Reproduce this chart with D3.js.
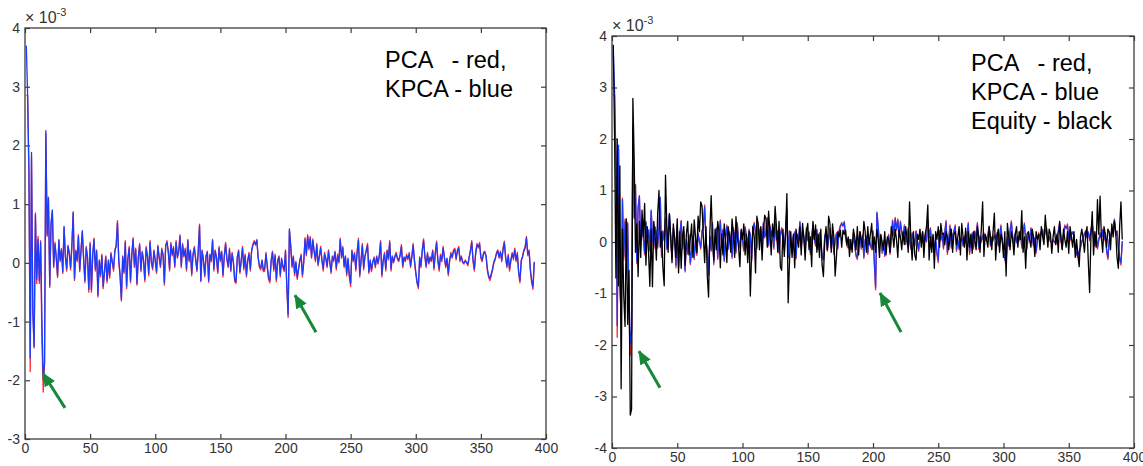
<!DOCTYPE html>
<html>
<head>
<meta charset="utf-8">
<script src="https://cdn.jsdelivr.net/npm/d3@7"></script>
<style>
  body { margin: 0; background: #fff; }
  svg { display: block; }
  .tick text { font-family: "Liberation Sans Narrow", "Liberation Sans", Arial, sans-serif; font-size: 14px; fill: #333; }
  .note { font-family: "Liberation Sans", Arial, sans-serif; font-size: 23.5px; fill: #000; white-space: pre; }
  .expo { font-family: "Liberation Sans Narrow", "Liberation Sans", Arial, sans-serif; fill: #333; }
</style>
</head>
<body>
<svg width="1143" height="466"></svg>
<script>
// all values in units of 1e-3, sample index runs 1..391
var pca = [
  2.85, 2.85, 1.55, -1.85, 1.80, -0.80, -1.45, 0.85, -0.35, 0.45,
  -0.35, 0.38, -1.35, -2.20, -1.72, 2.20, 0.45, 1.12, -0.42, 0.65,
  0.88, -0.08, 0.35, 0.08, -0.25, 0.40, 0.02, 0.24, -0.18, 0.60,
  0.12, -0.14, 0.30, 0.15, -0.12, 0.28, 0.85, -0.30, 0.22, 0.02,
  0.48, -0.15, 0.20, 0.52, 0.05, -0.34, 0.28, 0.08, -0.50, 0.35,
  -0.50, 0.12, 0.42, -0.14, 0.22, -0.58, 0.02, -0.24, 0.15, -0.44,
  -0.18, 0.12, -0.34, 0.02, -0.26, 0.18, 0.00, -0.14, 0.22, 0.28,
  0.72, 0.02, -0.24, -0.65, 0.12, -0.18, 0.38, -0.44, 0.05, 0.28,
  -0.34, 0.12, 0.43, -0.08, 0.25, -0.38, 0.08, 0.33, -0.15, 0.20,
  0.02, -0.32, 0.28, 0.10, -0.22, 0.38, 0.00, -0.12, 0.22, 0.02,
  -0.18, 0.30, 0.08, -0.08, 0.25, 0.12, -0.38, 0.28, 0.38, 0.18,
  -0.14, 0.35, 0.12, 0.28, -0.08, 0.38, 0.08, 0.20, 0.48, -0.08,
  0.33, 0.10, 0.25, -0.14, 0.40, 0.02, 0.22, -0.22, 0.12, 0.28,
  0.05, -0.15, 0.18, 0.66, -0.32, 0.22, 0.02, -0.24, 0.10, 0.20,
  -0.33, 0.12, 0.02, 0.40, -0.14, 0.22, 0.08, -0.18, 0.28, 0.02,
  0.20, -0.24, 0.10, 0.35, 0.05, -0.08, 0.25, -0.15, 0.18, 0.00,
  -0.32, -0.35, 0.08, 0.22, -0.18, 0.02, 0.28, -0.12, 0.15, -0.24,
  0.02, 0.18, -0.14, 0.22, 0.32, 0.38, 0.30, 0.40, 0.08, -0.08,
  -0.12, 0.02, -0.15, -0.14, 0.18, -0.08, -0.28, -0.34, 0.02, 0.20,
  -0.14, 0.15, -0.32, 0.02, 0.12, -0.24, 0.05, -0.08, -0.15, 0.22,
  -0.40, -0.93, 0.55, 0.28, -0.08, 0.12, -0.22, 0.00, -0.28, -0.12,
  0.02, 0.15, -0.24, 0.00, 0.43, 0.12, 0.48, 0.22, 0.45, 0.08,
  0.41, 0.18, 0.02, 0.33, -0.05, 0.10, 0.28, 0.02, -0.14, 0.18,
  0.05, -0.08, 0.22, 0.00, -0.18, 0.12, 0.02, 0.20, -0.12, 0.15,
  0.00, 0.42, 0.08, 0.28, -0.08, 0.10, -0.22, 0.05, -0.24, -0.40,
  0.22, 0.02, 0.18, -0.14, 0.20, 0.42, -0.24, 0.02, 0.33, -0.12,
  0.10, 0.22, 0.33, -0.18, 0.02, -0.15, 0.00, 0.10, -0.08, 0.12,
  -0.02, 0.10, 0.38, -0.24, 0.02, 0.18, -0.14, 0.22, 0.05, 0.38,
  -0.14, 0.10, 0.00, 0.12, 0.18, 0.05, 0.02, 0.15, 0.31, -0.08,
  0.08, 0.02, 0.15, 0.05, 0.18, -0.08, 0.12, 0.33, 0.02, -0.18,
  -0.35, -0.44, 0.08, -0.08, 0.22, 0.41, 0.10, -0.08, 0.18, -0.02,
  0.08, 0.02, 0.22, -0.12, 0.18, 0.37, 0.02, -0.14, 0.15, 0.02,
  0.28, 0.08, -0.08, 0.05, -0.22, 0.02, 0.18, 0.08, 0.22, 0.25,
  0.05, 0.22, 0.28, 0.02, 0.12, 0.00, -0.02, 0.05, 0.00, -0.05,
  0.08, 0.22, 0.38, 0.02, -0.14, 0.18, 0.33, 0.25, 0.35, 0.08,
  0.02, 0.18, 0.20, 0.10, -0.14, -0.25, -0.30, -0.22, -0.12, 0.00,
  0.05, 0.18, 0.22, 0.08, 0.20, 0.02, 0.25, 0.37, 0.08, -0.08,
  0.15, -0.14, 0.02, 0.18, 0.05, 0.25, 0.02, 0.18, -0.18, -0.34,
  0.02, 0.12, 0.22, 0.28, 0.45, 0.12, 0.22, -0.14, -0.34, -0.45, 0.00
];

var kpca = [
  3.70, 2.88, 1.58, -1.62, 1.88, -0.85, -1.42, 0.82, -0.28, 0.40,
  -0.30, 0.35, -0.98, -1.98, -1.70, 2.25, 0.48, 1.10, -0.38, 0.68,
  0.90, -0.05, 0.32, 0.10, -0.22, 0.38, 0.05, 0.22, -0.15, 0.62,
  0.10, -0.10, 0.28, 0.18, -0.08, 0.30, 0.87, -0.26, 0.20, 0.05,
  0.45, -0.12, 0.22, 0.55, 0.08, -0.30, 0.25, 0.10, -0.45, 0.32,
  -0.46, 0.15, 0.40, -0.10, 0.20, -0.55, 0.05, -0.20, 0.12, -0.40,
  -0.15, 0.10, -0.30, 0.05, -0.22, 0.15, 0.02, -0.10, 0.20, 0.30,
  0.68, 0.05, -0.20, -0.62, 0.10, -0.15, 0.35, -0.40, 0.08, 0.25,
  -0.30, 0.15, 0.40, -0.05, 0.22, -0.35, 0.10, 0.30, -0.12, 0.18,
  0.05, -0.28, 0.25, 0.12, -0.18, 0.35, 0.02, -0.08, 0.20, 0.05,
  -0.15, 0.28, 0.10, -0.05, 0.22, 0.15, -0.34, 0.30, 0.35, 0.20,
  -0.10, 0.32, 0.15, 0.25, -0.05, 0.35, 0.10, 0.18, 0.45, -0.05,
  0.30, 0.12, 0.22, -0.10, 0.38, 0.05, 0.20, -0.18, 0.15, 0.25,
  0.08, -0.12, 0.20, 0.63, -0.30, 0.20, 0.05, -0.20, 0.12, 0.18,
  -0.30, 0.15, 0.05, 0.38, -0.10, 0.20, 0.10, -0.15, 0.25, 0.05,
  0.18, -0.20, 0.12, 0.32, 0.08, -0.05, 0.22, -0.12, 0.15, 0.02,
  -0.28, -0.32, 0.10, 0.20, -0.15, 0.05, 0.25, -0.08, 0.12, -0.20,
  0.05, 0.15, -0.10, 0.20, 0.30, 0.35, 0.32, 0.38, 0.10, -0.05,
  -0.08, 0.05, -0.12, -0.10, 0.15, -0.05, -0.25, -0.30, 0.05, 0.18,
  -0.10, 0.12, -0.28, 0.05, 0.10, -0.20, 0.08, -0.05, -0.12, 0.20,
  -0.38, -0.88, 0.58, 0.30, -0.05, 0.10, -0.18, 0.02, -0.25, -0.10,
  0.05, 0.12, -0.20, 0.02, 0.40, 0.15, 0.45, 0.25, 0.42, 0.10,
  0.38, 0.20, 0.05, 0.30, -0.02, 0.12, 0.25, 0.05, -0.10, 0.15,
  0.08, -0.05, 0.20, 0.02, -0.15, 0.10, 0.05, 0.18, -0.08, 0.12,
  0.02, 0.39, 0.10, 0.25, -0.05, 0.12, -0.18, 0.08, -0.20, -0.35,
  0.20, 0.05, 0.15, -0.10, 0.18, 0.38, -0.20, 0.05, 0.30, -0.08,
  0.12, 0.20, 0.30, -0.15, 0.05, -0.12, 0.02, 0.08, -0.05, 0.10,
  0.00, 0.12, 0.35, -0.20, 0.05, 0.15, -0.10, 0.20, 0.08, 0.35,
  -0.10, 0.12, 0.02, 0.10, 0.15, 0.08, 0.05, 0.12, 0.28, -0.05,
  0.10, 0.05, 0.12, 0.08, 0.15, -0.05, 0.10, 0.30, 0.05, -0.15,
  -0.32, -0.40, 0.10, -0.05, 0.20, 0.38, 0.12, -0.05, 0.15, 0.00,
  0.10, 0.05, 0.20, -0.08, 0.15, 0.34, 0.05, -0.10, 0.12, 0.05,
  0.25, 0.10, -0.05, 0.08, -0.18, 0.05, 0.15, 0.10, 0.20, 0.22,
  0.08, 0.20, 0.25, 0.05, 0.10, 0.02, 0.00, 0.03, 0.01, -0.02,
  0.10, 0.20, 0.35, 0.05, -0.10, 0.15, 0.30, 0.28, 0.32, 0.10,
  0.05, 0.15, 0.18, 0.12, -0.10, -0.22, -0.26, -0.18, -0.10, 0.02,
  0.08, 0.15, 0.20, 0.10, 0.18, 0.05, 0.22, 0.34, 0.10, -0.05,
  0.12, -0.10, 0.05, 0.15, 0.08, 0.22, 0.05, 0.15, -0.15, -0.30,
  0.05, 0.10, 0.20, 0.25, 0.42, 0.15, 0.20, -0.10, -0.30, -0.40, 0.02
];

var equity = [
  3.83, 2.00, -0.70, 2.00, -0.85, 1.48, -2.85, 0.25, -1.05, -1.64,
  0.45, -1.60, -0.55, -3.36, -3.25, 2.79, 1.60, -0.20, 0.35, -0.67,
  0.40, -0.30, 0.62, 0.10, 0.75, -0.45, 0.30, -0.20, -0.86, 0.25,
  -0.87, 0.40, 0.15, -0.35, 0.55, 1.00, -0.10, 0.20, -0.50, -0.85,
  1.30, 0.30, -0.20, 0.55, 0.10, -0.40, 0.35, 0.05, -0.30, 0.45,
  -0.60, 0.20, -0.51, 0.10, 0.30, -0.45, 0.15, 0.40, -0.25, 0.05,
  0.35, -0.30, 0.43, 0.10, -0.20, 0.50, 0.20, 0.78, 0.70, 0.10,
  -0.40, 0.30, -0.65, -1.07, 0.20, 0.90, 0.05, -0.35, 0.25, -0.15,
  0.40, 0.20, -0.50, 0.15, -0.25, 0.35, 0.05, -0.40, 0.30, 0.10,
  -0.20, 0.45, 0.15, -0.30, 0.49, 0.10, -0.10, -0.48, 0.25, 0.05,
  0.35, -0.25, 0.15, -0.40, 0.20, -1.05, -0.20, 0.30, 0.10, -0.60,
  0.50, 0.36, -0.15, 0.30, -0.35, 0.20, 0.52, 0.45, -0.10, 0.60,
  0.20, -0.25, 0.35, 0.10, 0.69, 0.30, -0.20, 0.40, -0.48, -0.55,
  0.25, -0.28, 0.15, 0.94, -1.18, -0.40, 0.20, -0.30, 0.15, -0.50,
  0.25, 0.05, -0.10, 0.30, -0.25, 0.36, 0.10, -0.35, 0.20, 0.36,
  -0.15, 0.10, -0.48, 0.40, 0.05, 0.33, -0.20, 0.15, -0.30, 0.25,
  -0.45, -0.67, 0.00, 0.30, -0.15, 0.50, 0.36, -0.20, 0.35, 0.10,
  -0.66, -0.28, 0.20, 0.10, 0.23, -0.10, 0.23, 0.15, 0.23, -0.05,
  0.10, -0.28, 0.05, -0.20, 0.25, 0.10, -0.15, 0.30, -0.25, 0.20,
  0.05, -0.10, 0.40, 0.20, -0.20, 0.30, -0.05, 0.15, 0.36, -0.15,
  0.10, -0.20, 0.25, 0.05, -0.30, 0.15, 0.00, -0.15, 0.20, -0.25,
  0.10, 0.05, -0.20, 0.30, 0.15, -0.10, 0.25, 0.05, -0.30, 0.23,
  0.10, -0.15, 0.20, -0.05, 0.30, 0.10, -0.20, 0.78, 0.05, -0.35,
  0.20, -0.25, -0.35, 0.15, 0.05, 0.25, -0.10, 0.20, -0.30, 0.15,
  0.30, 0.72, -0.35, 0.10, -0.20, 0.15, -0.51, 0.20, 0.05, 0.30,
  -0.10, 0.36, 0.15, 0.17, -0.05, 0.20, 0.10, -0.15, 0.10, 0.25,
  -0.20, 0.15, 0.20, -0.05, 0.10, 0.30, -0.25, 0.36, 0.10, -0.10,
  0.27, -0.35, 0.20, -0.10, 0.15, -0.22, 0.20, 0.05, -0.15, 0.30,
  0.10, -0.20, 0.25, 0.78, -0.28, 0.15, 0.05, -0.10, 0.30, 0.10,
  -0.15, 0.20, 0.56, -0.35, 0.10, 0.25, -0.20, 0.15, 0.05, -0.30,
  0.20, -0.66, 0.36, 0.10, -0.15, 0.20, 0.05, -0.25, 0.15, 0.30,
  -0.10, 0.20, 0.05, 0.61, -0.20, 0.10, -0.51, 0.15, 0.20, 0.05,
  -0.10, 0.25, 0.10, -0.28, 0.20, 0.05, 0.15, -0.15, 0.30, 0.10,
  -0.05, 0.52, 0.20, -0.10, 0.25, 0.15, -0.22, 0.10, 0.30, -0.05,
  0.15, -0.20, 0.40, 0.10, -0.15, 0.25, 0.05, -0.10, 0.20, -0.22,
  0.30, 0.10, -0.10, 0.20, -0.30, 0.05, -0.25, -0.48, 0.10, 0.25,
  0.05, -0.20, 0.15, 0.30, -0.40, -0.98, 0.10, 0.59, -0.25, 0.20,
  -0.10, 0.82, 0.15, 0.89, 0.10, -0.20, 0.30, 0.15, -0.10, 0.25,
  0.20, -0.15, 0.35, 0.10, 0.40, 0.20, -0.30, -0.51, 0.30, 0.78, 0.05
];

var xTicks = [0, 50, 100, 150, 200, 250, 300, 350, 400];
var leftYTicks = [-3, -2, -1, 0, 1, 2, 3, 4];
var rightYTicks = [-4, -3, -2, -1, 0, 1, 2, 3, 4];
var leftNotes = ["PCA   - red,", "KPCA - blue"];
var rightNotes = ["PCA   - red,", "KPCA - blue", "Equity - black"];
// green arrows, [tail x, tail y, tip x, tip y] in data units
var leftArrows = [[30.7, -2.47, 13.8, -1.88], [223.4, -1.18, 207.3, -0.55]];
var rightArrows = [[36.8, -2.83, 20.7, -2.12], [221.5, -1.75, 205.4, -0.99]];

var svg = d3.select("svg");

svg.append("defs")
  .append("marker")
  .attr("id", "head")
  .attr("markerUnits", "userSpaceOnUse")
  .attr("viewBox", "0 0 14 12")
  .attr("refX", 13)
  .attr("refY", 6)
  .attr("markerWidth", 14)
  .attr("markerHeight", 12)
  .attr("orient", "auto")
  .append("path")
  .attr("d", "M0,0 L14,6 L0,12 Z")
  .attr("fill", "#17883a");

// plain hyphen for negatives, like the original
var plainFormat = function (d) { return String(d); };

function drawPanel(box, yDomain, yTicks, series, notes, arrows, noteBase) {
  var x = d3.scaleLinear().domain([0, 400]).range([box.left, box.right]);
  var y = d3.scaleLinear().domain(yDomain).range([box.bottom, box.top]);
  var g = svg.append("g");

  // frame
  g.append("rect")
    .attr("x", box.left)
    .attr("y", box.top)
    .attr("width", box.right - box.left)
    .attr("height", box.bottom - box.top)
    .attr("fill", "none")
    .attr("stroke", "#3c3c3c")
    .attr("stroke-width", 1.3);

  // inward ticks on all four sides, labels bottom and left
  g.append("g")
    .attr("transform", "translate(0," + box.bottom + ")")
    .call(d3.axisBottom(x).tickValues(xTicks).tickFormat(plainFormat)
      .tickSizeInner(-5).tickSizeOuter(0).tickPadding(4));
  g.append("g")
    .attr("transform", "translate(0," + box.top + ")")
    .call(d3.axisTop(x).tickValues(xTicks).tickSizeInner(-5).tickSizeOuter(0).tickFormat(""));
  g.append("g")
    .attr("transform", "translate(" + box.left + ",0)")
    .call(d3.axisLeft(y).tickValues(yTicks).tickFormat(plainFormat)
      .tickSizeInner(-5).tickSizeOuter(0).tickPadding(5));
  g.append("g")
    .attr("transform", "translate(" + box.right + ",0)")
    .call(d3.axisRight(y).tickValues(yTicks).tickSizeInner(-5).tickSizeOuter(0).tickFormat(""));
  g.selectAll(".domain").remove();
  g.selectAll(".tick line").attr("stroke", "#3c3c3c").attr("stroke-width", 1.2);

  // exponent label
  var expo = g.append("text")
    .attr("class", "expo")
    .attr("x", box.left)
    .attr("y", box.top - 5)
    .attr("font-size", 16);
  expo.append("tspan").text("\u00d7 10");
  expo.append("tspan").attr("dy", -7).attr("font-size", 11).text("-3");

  var line = d3.line()
    .x(function (d, i) { return x(i + 1); })
    .y(function (d) { return y(d); });

  series.forEach(function (s) {
    g.append("path")
      .datum(s.values)
      .attr("d", line)
      .attr("fill", "none")
      .attr("stroke", s.color)
      .attr("stroke-width", 1.3)
      .attr("stroke-linejoin", "round");
  });

  notes.forEach(function (t, i) {
    g.append("text")
      .attr("class", "note")
      .attr("x", noteBase[0])
      .attr("y", noteBase[1] + i * 29)
      .text(t);
  });

  arrows.forEach(function (a) {
    g.append("line")
      .attr("x1", x(a[0]))
      .attr("y1", y(a[1]))
      .attr("x2", x(a[2]))
      .attr("y2", y(a[3]))
      .attr("stroke", "#17883a")
      .attr("stroke-width", 3)
      .attr("marker-end", "url(#head)");
  });
}

drawPanel(
  { left: 25, right: 546, top: 28, bottom: 439 },
  [-3, 4], leftYTicks,
  [{ values: pca, color: "#ff2a2a" }, { values: kpca, color: "#1a3cff" }],
  leftNotes, leftArrows, [385, 68]
);

drawPanel(
  { left: 612, right: 1134, top: 36, bottom: 448 },
  [-4, 4], rightYTicks,
  [{ values: pca, color: "#ff2a2a" }, { values: kpca, color: "#1a3cff" }, { values: equity, color: "#000" }],
  rightNotes, rightArrows, [971, 71]
);
</script>
</body>
</html>
